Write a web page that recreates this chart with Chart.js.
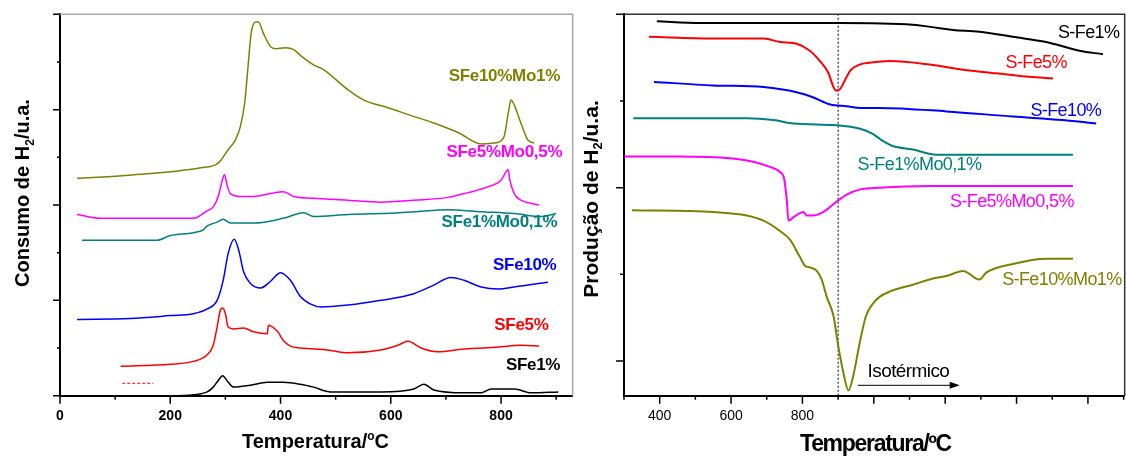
<!DOCTYPE html>
<html>
<head>
<meta charset="utf-8">
<script src="https://cdn.jsdelivr.net/npm/chart.js@4.4.0/dist/chart.umd.min.js"></script>
<style>
  html, body { margin: 0; padding: 0; background: #fff; }
  #wrap { position: relative; width: 1126px; height: 459px; }
  #tpr { position: absolute; left: 0; top: 0; }
  #tpd { position: absolute; left: 580px; top: 0; }
</style>
</head>
<body>
<div id="wrap">
  <canvas id="tpr" width="580" height="459"></canvas>
  <canvas id="tpd" width="546" height="459"></canvas>
</div>
<script>
// ---- left panel: consumo de H2 (TPR), temperatura em °C ----
const fe1T = [213, 242, 267, 278, 287, 295, 304, 315, 345, 376, 405, 436, 460, 491, 582, 642, 660, 678, 733, 764, 782, 824, 855, 904];
const fe1Y = [0.00, 0.01, 0.04, 0.09, 0.16, 0.21, 0.15, 0.09, 0.11, 0.14, 0.14, 0.12, 0.09, 0.04, 0.04, 0.07, 0.12, 0.06, 0.03, 0.03, 0.07, 0.07, 0.03, 0.04];

const fe5T = [110, 200, 242, 267, 278, 285, 291, 295, 300, 305, 315, 333, 351, 376, 378, 395, 405, 418, 436, 485, 522, 582, 613, 631, 655, 685, 733, 795, 836, 869];
const fe5Y = [0.31, 0.33, 0.36, 0.43, 0.53, 0.72, 0.90, 0.92, 0.86, 0.72, 0.70, 0.71, 0.67, 0.65, 0.74, 0.67, 0.58, 0.52, 0.50, 0.48, 0.45, 0.48, 0.53, 0.57, 0.50, 0.46, 0.49, 0.51, 0.53, 0.52];
const fe5bitT = [113, 169];
const fe5bitY = [0.13, 0.13];

const fe10T = [31, 127, 200, 242, 267, 285, 296, 305, 316, 324, 333, 345, 364, 382, 400, 418, 436, 455, 473, 522, 582, 642, 678, 709, 733, 764, 795, 824, 885];
const fe10Y = [0.80, 0.81, 0.84, 0.86, 0.91, 1.00, 1.21, 1.49, 1.64, 1.53, 1.30, 1.18, 1.13, 1.20, 1.29, 1.21, 1.04, 0.96, 0.93, 0.95, 1.00, 1.07, 1.16, 1.24, 1.21, 1.14, 1.12, 1.14, 1.19];

const fe1moT = [40, 176, 200, 242, 260, 267, 285, 296, 309, 351, 405, 442, 460, 522, 582, 642, 704, 764, 824, 873, 900];
const fe1moY = [1.63, 1.63, 1.68, 1.71, 1.74, 1.78, 1.82, 1.85, 1.81, 1.81, 1.86, 1.92, 1.88, 1.90, 1.91, 1.93, 1.95, 1.93, 1.91, 1.88, 1.91];

const fe5moT = [31, 73, 242, 267, 278, 287, 295, 298, 304, 309, 327, 351, 382, 405, 424, 460, 522, 582, 642, 704, 740, 776, 800, 813, 816, 824, 836, 860, 869];
const fe5moY = [1.90, 1.86, 1.86, 1.94, 1.98, 2.09, 2.27, 2.32, 2.19, 2.12, 2.09, 2.09, 2.12, 2.14, 2.09, 2.07, 2.05, 2.03, 2.05, 2.08, 2.13, 2.19, 2.26, 2.37, 2.26, 2.12, 2.05, 2.01, 2.00];

const fe10moT = [31, 118, 255, 287, 305, 318, 327, 335, 340, 347, 355, 360, 369, 382, 391, 409, 424, 436, 460, 478, 522, 551, 595, 636, 678, 722, 764, 787, 805, 813, 818, 824, 836, 849, 860];
const fe10moY = [2.28, 2.31, 2.39, 2.44, 2.58, 2.68, 2.82, 3.07, 3.38, 3.81, 3.92, 3.92, 3.80, 3.66, 3.64, 3.65, 3.63, 3.57, 3.47, 3.42, 3.21, 3.10, 3.02, 2.94, 2.86, 2.76, 2.64, 2.65, 2.71, 2.96, 3.10, 3.05, 2.86, 2.68, 2.65];

const tprTickLabels = [0, 200, 400, 600, 800];

// ---- right panel: produção de H2 ----
const s1T = [392, 513, 681, 900, 1109, 1184, 1222, 1296, 1390, 1483, 1576, 1642];
const s1Y = [1.96, 1.95, 1.95, 1.95, 1.94, 1.92, 1.91, 1.90, 1.87, 1.84, 1.79, 1.77];

const s5T = [370, 550, 691, 737, 784, 821, 849, 873, 887, 894, 906, 924, 936, 960, 988, 1044, 1156, 1250, 1343, 1436, 1502];
const s5Y = [1.87, 1.86, 1.86, 1.84, 1.83, 1.79, 1.73, 1.66, 1.58, 1.56, 1.57, 1.64, 1.68, 1.71, 1.72, 1.73, 1.71, 1.68, 1.66, 1.64, 1.63];

const s10T = [384, 550, 691, 784, 831, 878, 924, 962, 1016, 1203, 1390, 1530, 1623];
const s10Y = [1.61, 1.59, 1.58, 1.55, 1.52, 1.48, 1.47, 1.46, 1.46, 1.44, 1.41, 1.39, 1.37];

const s1moT = [326, 644, 719, 775, 896, 962, 997, 1025, 1053, 1109, 1175, 1296, 1558];
const s1moY = [1.40, 1.40, 1.39, 1.37, 1.36, 1.34, 1.31, 1.27, 1.24, 1.22, 1.19, 1.19, 1.19];

const s5moT = [301, 457, 597, 662, 709, 737, 749, 756, 761, 775, 803, 812, 831, 859, 896, 924, 962, 1016, 1156, 1558];
const s5moY = [1.18, 1.18, 1.17, 1.15, 1.12, 1.09, 1.05, 0.93, 0.81, 0.83, 0.86, 0.84, 0.84, 0.86, 0.92, 0.96, 0.99, 1.00, 1.01, 1.01];

const s10moT = [322, 550, 644, 691, 737, 765, 793, 807, 821, 840, 854, 868, 887, 901, 915, 929, 943, 960, 978, 997, 1016, 1044, 1109, 1175, 1203, 1250, 1296, 1315, 1390, 1483, 1558];
const s10moY = [0.87, 0.86, 0.84, 0.81, 0.75, 0.70, 0.60, 0.55, 0.54, 0.52, 0.47, 0.37, 0.26, 0.08, -0.07, -0.17, -0.08, 0.10, 0.26, 0.33, 0.37, 0.40, 0.44, 0.48, 0.49, 0.52, 0.47, 0.51, 0.56, 0.59, 0.59];

const isothermT = [900, 900];
const isothermY = [-0.2, 2.0];
const arrowT = [955, 1235];
const arrowY = [-0.14, -0.14];
const tpdTickLabels = [400, 600, 800];

const FONT = '"Liberation Sans", Arial, sans-serif';
Chart.defaults.font.family = FONT;
Chart.defaults.color = '#000';

function pts(T, Y) {
    return T.map((t, i) => ({ x: t, y: Y[i] }));
}

function series(label, T, Y, color, width, extra) {
    return Object.assign({
        label, data: pts(T, Y), borderColor: color, backgroundColor: color,
        borderWidth: width, pointRadius: 0, cubicInterpolationMode: 'monotone', fill: false
    }, extra || {});
}

function eachTick(min, max, step, major, fn) {
    const start = Math.ceil(min / step - 1e-9);
    for (let k = start; k * step <= max + 1e-9; k++) {
        const v = k * step;
        const r = v / major;
        fn(v, Math.abs(r - Math.round(r)) < 1e-6);
    }
}

// text with sub/superscript pieces, centred on (cx, cy) cap-middle
function richText(ctx, parts, cx, cy, size, weight, spacing, angle) {
    ctx.save();
    ctx.translate(cx, cy);
    ctx.rotate(angle);
    ctx.textAlign = 'left';
    ctx.textBaseline = 'alphabetic';
    ctx.fillStyle = '#000';
    ctx.letterSpacing = spacing;
    const fontFor = p => `${weight} ${p.sub || p.sup ? Math.round(size * 0.62) : size}px ${FONT}`;
    let w = 0;
    parts.forEach(p => { ctx.font = fontFor(p); w += ctx.measureText(p.t).width; });
    let xx = -w / 2;
    const base = size * 0.358;
    parts.forEach(p => {
        ctx.font = fontFor(p);
        const dy = p.sub ? size * 0.22 : p.sup ? -size * 0.42 : 0;
        ctx.fillText(p.t, xx, base + dy);
        xx += ctx.measureText(p.t).width;
    });
    ctx.restore();
}

const decor = {
    id: 'decor',
    afterDraw(chart, args, o) {
        const { ctx, chartArea: a, scales: { x, y } } = chart;
        ctx.save();
        ctx.strokeStyle = o.frameColor;
        ctx.lineWidth = o.frameWidth;
        ctx.beginPath();
        ctx.moveTo(a.left, a.top);
        ctx.lineTo(a.right, a.top);
        ctx.lineTo(a.right, a.bottom);
        ctx.stroke();

        ctx.strokeStyle = '#000';
        ctx.lineWidth = 1.5;
        ctx.beginPath();
        eachTick(x.min, x.max, o.xMinor, o.xMajor, (v, major) => {
            const px = x.getPixelForValue(v);
            ctx.moveTo(px, a.bottom);
            ctx.lineTo(px, a.bottom + (major ? o.xMajorLen : o.xMinorLen));
        });
        eachTick(y.min, y.max, o.yMinor, o.yMajor, (v, major) => {
            const py = y.getPixelForValue(v);
            ctx.moveTo(a.left, py);
            ctx.lineTo(a.left - (major ? o.yMajorLen : o.yMinorLen), py);
        });
        ctx.stroke();

        // x tick labels
        ctx.fillStyle = '#000';
        ctx.textAlign = 'center';
        ctx.textBaseline = 'middle';
        ctx.font = o.tickFont;
        o.tickLabels.forEach(v => ctx.fillText(String(v), x.getPixelForValue(v), a.bottom + o.tickLabelGap));

        if (o.arrowDataset !== undefined) {
            const el = chart.getDatasetMeta(o.arrowDataset).data;
            const tip = el[el.length - 1];
            ctx.beginPath();
            ctx.moveTo(tip.x + 2, tip.y);
            ctx.lineTo(tip.x - 8, tip.y - 3.5);
            ctx.lineTo(tip.x - 8, tip.y + 3.5);
            ctx.closePath();
            ctx.fill();
        }

        o.labels.forEach(l => {
            ctx.font = l.font || o.labelFont;
            ctx.letterSpacing = o.labelSpacing;
            ctx.fillStyle = l.color;
            ctx.fillText(l.text, x.getPixelForValue(l.x), y.getPixelForValue(l.y));
        });
        ctx.letterSpacing = '0px';
        o.titles.forEach(t => richText(ctx, t.parts, t.cx, t.cy, t.size, 'bold', t.spacing, t.angle));
        ctx.restore();
    }
};

new Chart(document.getElementById('tpr'), {
    type: 'line',
    data: {
        datasets: [
            series('SFe1%', fe1T, fe1Y, '#000000', 1.5),
            series('SFe5%', fe5T, fe5Y, '#ff0000', 1.5),
            series('SFe5% (trecho)', fe5bitT, fe5bitY, '#ff0000', 1, { borderDash: [3, 2] }),
            series('SFe10%', fe10T, fe10Y, '#0000ff', 1.5),
            series('SFe1%Mo0,1%', fe1moT, fe1moY, '#008080', 1.5),
            series('SFe5%Mo0,5%', fe5moT, fe5moY, '#ff00ff', 1.5),
            series('SFe10%Mo1%', fe10moT, fe10moY, '#808000', 1.5)
        ]
    },
    options: {
        responsive: false,
        animation: false,
        layout: { padding: { left: 0, top: 14.3, right: 7.3, bottom: 0 } },
        plugins: {
            legend: { display: false },
            tooltip: { enabled: false },
            decor: {
                frameColor: '#a8a8a8', frameWidth: 1.5,
                xMinor: 100, xMajor: 200, xMajorLen: 8, xMinorLen: 4,
                yMinor: 0.5, yMajor: 1, yMajorLen: 7, yMinorLen: 3,
                tickLabels: tprTickLabels, tickFont: `bold 14px ${FONT}`, tickLabelGap: 20,
                labelFont: `bold 17px ${FONT}`, labelSpacing: '-0.3px',
                labels: [
                    { text: 'SFe10%Mo1%', color: '#808000', x: 806, y: 3.35 },
                    { text: 'SFe5%Mo0,5%', color: '#ff00ff', x: 806, y: 2.55 },
                    { text: 'SFe1%Mo0,1%', color: '#008080', x: 797, y: 1.82 },
                    { text: 'SFe10%', color: '#0000ff', x: 843, y: 1.37 },
                    { text: 'SFe5%', color: '#ff0000', x: 837, y: 0.74 },
                    { text: 'SFe1%', color: '#000000', x: 858, y: 0.32 }
                ],
                titles: [
                    { parts: [{ t: 'Consumo de H' }, { t: '2', sub: true }, { t: '/u.a.' }], cx: 22, cy: 193, size: 20, spacing: '0px', angle: -Math.PI / 2 },
                    { parts: [{ t: 'Temperatura/' }, { t: 'o', sup: true }, { t: 'C' }], cx: 315.5, cy: 441, size: 20, spacing: '0px', angle: 0 }
                ]
            }
        },
        scales: {
            x: {
                type: 'linear', min: 0, max: 930,
                grid: { display: false },
                border: { color: '#000', width: 2 },
                ticks: { display: false },
                afterFit: s => { s.height = 63.3; }
            },
            y: {
                type: 'linear', min: 0, max: 4,
                grid: { display: false },
                border: { color: '#000', width: 2 },
                ticks: { display: false },
                afterFit: s => { s.width = 60; }
            }
        }
    },
    plugins: [decor]
});

new Chart(document.getElementById('tpd'), {
    type: 'line',
    data: {
        datasets: [
            series('S-Fe1%', s1T, s1Y, '#000000', 2),
            series('S-Fe5%', s5T, s5Y, '#ff0000', 2),
            series('S-Fe10%', s10T, s10Y, '#0000ff', 2),
            series('S-Fe1%Mo0,1%', s1moT, s1moY, '#008080', 2),
            series('S-Fe5%Mo0,5%', s5moT, s5moY, '#ff00ff', 2),
            series('S-Fe10%Mo1%', s10moT, s10moY, '#808000', 2),
            series('isotérmico', isothermT, isothermY, '#000000', 1, { borderDash: [2, 2], cubicInterpolationMode: 'default' }),
            series('seta', arrowT, arrowY, '#000000', 1, { cubicInterpolationMode: 'default' })
        ]
    },
    options: {
        responsive: false,
        animation: false,
        layout: { padding: { left: 0, top: 14.3, right: 1.3, bottom: 0 } },
        plugins: {
            legend: { display: false },
            tooltip: { enabled: false },
            decor: {
                frameColor: '#333333', frameWidth: 1.5,
                xMinor: 100, xMajor: 200, xMajorLen: 8, xMinorLen: 4,
                yMinor: 0.5, yMajor: 1, yMajorLen: 8, yMinorLen: 4,
                tickLabels: tpdTickLabels, tickFont: `14px ${FONT}`, tickLabelGap: 20,
                arrowDataset: 7,
                labelFont: `18px ${FONT}`, labelSpacing: '-0.6px',
                labels: [
                    { text: 'S-Fe1%', color: '#000000', x: 1602, y: 1.89 },
                    { text: 'S-Fe5%', color: '#ff0000', x: 1455, y: 1.72 },
                    { text: 'S-Fe10%', color: '#0000ff', x: 1538, y: 1.44 },
                    { text: 'S-Fe1%Mo0,1%', color: '#008080', x: 1128, y: 1.13 },
                    { text: 'S-Fe5%Mo0,5%', color: '#ff00ff', x: 1387, y: 0.92 },
                    { text: 'S-Fe10%Mo1%', color: '#808000', x: 1527, y: 0.47 },
                    { text: 'Isotérmico', color: '#000000', x: 1097, y: -0.06, font: `19px ${FONT}` }
                ],
                titles: [
                    { parts: [{ t: 'Produção de H' }, { t: '2', sub: true }, { t: '/u.a.' }], cx: 10, cy: 199, size: 21, spacing: '0px', angle: -Math.PI / 2 },
                    { parts: [{ t: 'Temperatura/ºC' }], cx: 295.5, cy: 443, size: 23, spacing: '-1.3px', angle: 0 }
                ]
            }
        },
        scales: {
            x: {
                type: 'linear', min: 300, max: 1703,
                grid: { display: false },
                border: { color: '#000', width: 2 },
                ticks: { display: false },
                afterFit: s => { s.height = 63.3; }
            },
            y: {
                type: 'linear', min: -0.2, max: 2.0,
                grid: { display: false },
                border: { color: '#000', width: 2 },
                ticks: { display: false },
                afterFit: s => { s.width = 44; }
            }
        }
    },
    plugins: [decor]
});
</script>
</body>
</html>
